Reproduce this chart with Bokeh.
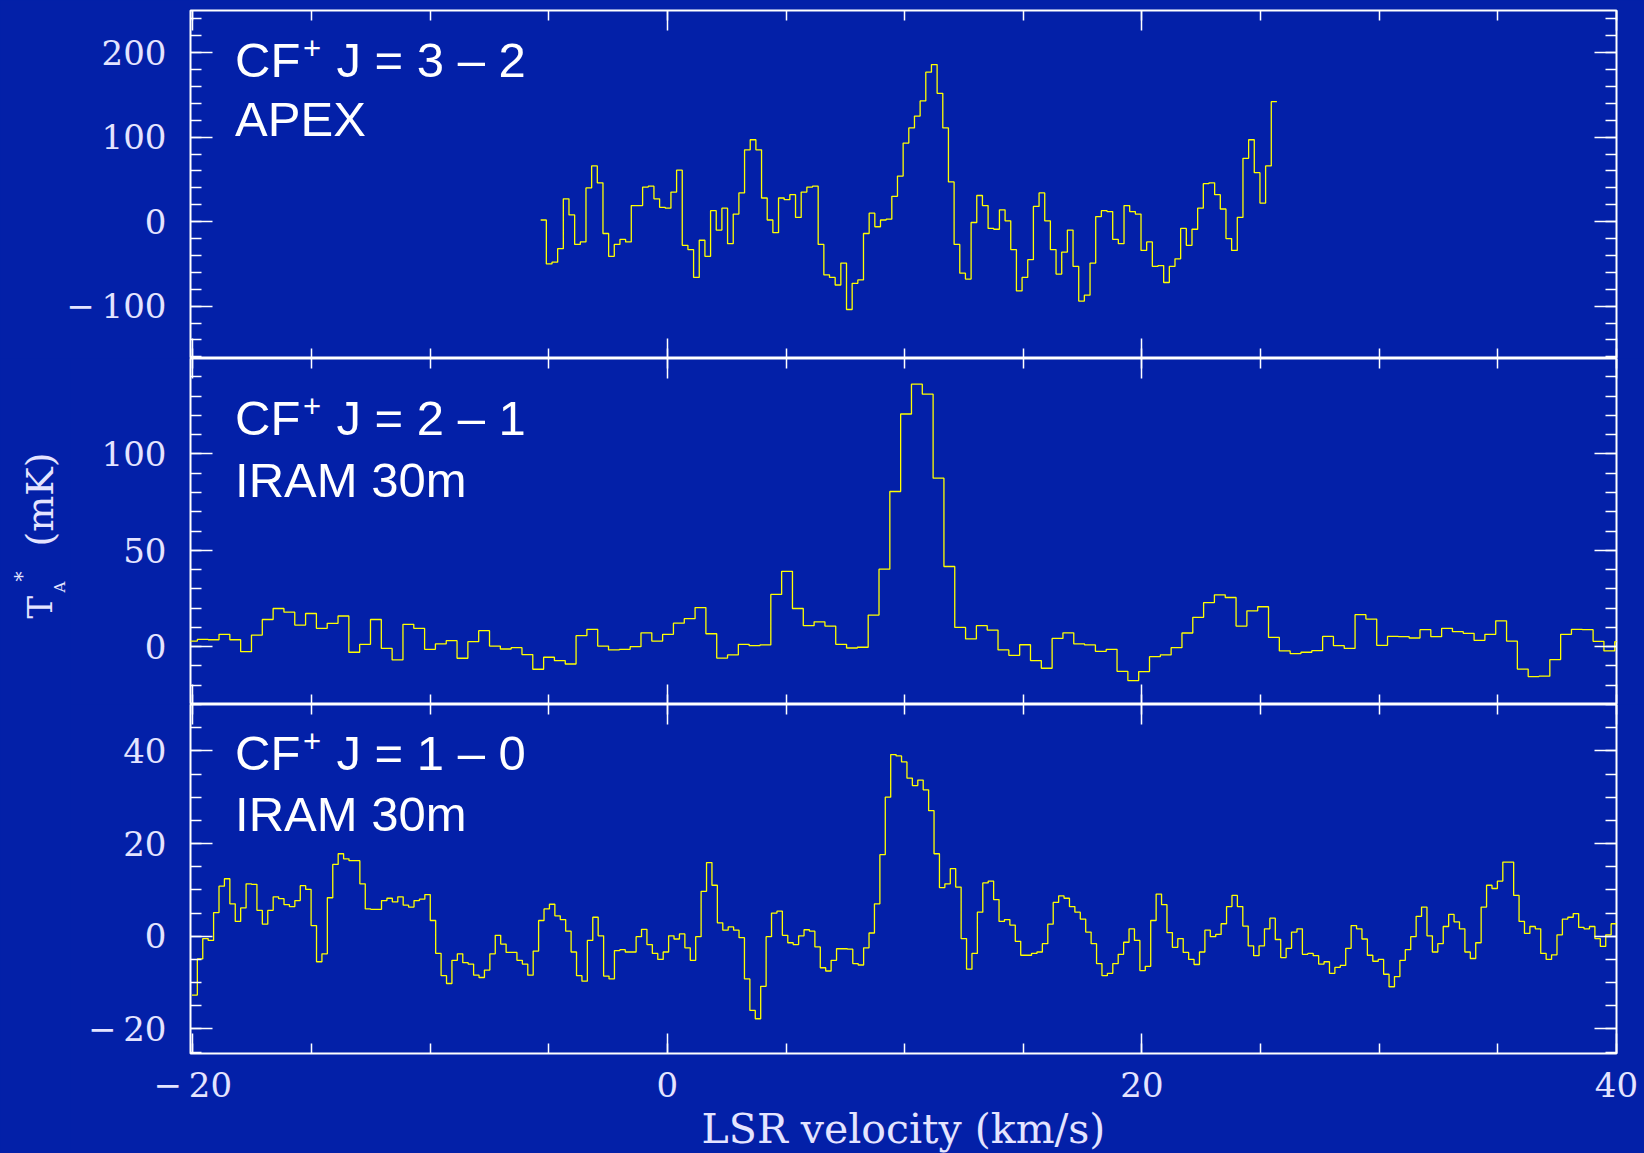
import numpy as np
from bokeh.plotting import figure
from bokeh.layouts import column, row
from bokeh.models import FixedTicker, LinearAxis, Label, Range1d
from bokeh.embed import file_html
from bokeh.resources import INLINE

# ---------------- data ----------------
# CF+ J=3-2, APEX: left edge of first channel, channel width (km/s), T_A* (mK)
v0_32 = -5.342
dv_32 = 0.2387
ta_32 = [2, -50, -48, -32, 27, 8, -27, -24, 40, 66, 46, -14, -41, -27, -21, -24,
         19, 19, 41, 42, 27, 17, 16, 35, 61, -28, -33, -66, -22, -41, 13, -10,
         16, -26, 9, 34, 85, 97, 85, 28, 2, -13, 28, 26, 32, 5, 35, 41, 42, -27,
         -63, -66, -75, -49, -104, -73, -69, -14, 10, -6, 2, 3, 30, 54, 93, 111,
         125, 143, 177, 186, 152, 111, 47, -27, -61, -68, -1, 31, 19, -8, -9, 14,
         1, -33, -82, -66, -45, 18, 34, 1, -33, -62, -36, -10, -53, -94, -87, -49,
         6, 13, 12, -21, -26, 19, 12, 9, -34, -24, -53, -52, -72, -53, -44, -8,
         -28, -9, 16, 45, 46, 32, 15, -20, -34, 5, 75, 97, 58, 22, 66, 142]

# CF+ J=2-1, IRAM 30m
v0_21 = -20.266
dv_21 = 0.456
ta_21 = [2.9, 3.8, 3.6, 6.4, 3.6, -2.6, 6.0, 14.1, 19.8, 17.9, 11.2, 17.2, 9.5, 12.1,
         15.9, -2.9, 1.2, 14.1, -0.9, -6.9, 11.6, 9.5, -1.4, 1.4, 3.1, -6.0, 2.6, 8.3,
         0.3, -1.2, -0.5, -4.1, -11.7, -5.5, -7.2, -9.0, 5.7, 9.0, 0.3, -1.7, -1.4, 0.0,
         7.2, 2.9, 6.4, 12.2, 14.5, 20.3, 6.7, -5.9, -4.3, 1.2, 0.5, 0.9, 27.1, 39.1,
         19.8, 10.9, 12.9, 10.7, 1.2, -0.7, -0.3, 16.4, 40.2, 80.5, 120.7, 136.2, 131.0,
         87.4, 41.6, 10.0, 4.0, 10.9, 8.6, -1.7, -4.5, 1.0, -7.2, -11.2, 4.3, 7.2, 1.4,
         0.9, -2.4, -1.4, -12.8, -17.6, -12.9, -5.2, -4.3, -0.5, 7.1, 15.2, 22.9, 26.9,
         25.5, 10.7, 18.6, 20.7, 4.8, -2.2, -3.6, -2.9, -2.1, 5.3, 0.5, -0.9, 16.6, 14.3,
         0.7, 5.3, 5.2, 4.5, 8.8, 5.2, 9.5, 7.8, 6.9, 3.3, 6.4, 13.4, 2.9, -11.6, -15.5,
         -15.3, -6.7, 6.4, 9.0, 8.8, 2.8, -2.2, 2.6]

# CF+ J=1-0, IRAM 30m
v0_10 = -20.04
dv_10 = 0.2283
ta_10 = [-12.7, -4.9, -0.5, -0.9, 5.1, 10.8, 12.4, 7.0, 3.2, 6.1, 11.3, 11.2, 5.6, 2.6,
         5.6, 8.5, 8.1, 6.8, 6.4, 7.7, 10.9, 10.1, 2.3, -5.5, -3.8, 8.3, 15.5, 17.8, 16.7,
         16.3, 16.3, 11.3, 5.9, 5.8, 5.8, 7.7, 8.2, 7.4, 8.5, 6.7, 6.3, 7.7, 8.0, 9.0, 3.4,
         -3.7, -8.5, -10.2, -5.2, -3.8, -5.7, -6.0, -8.4, -8.9, -7.3, -3.8, 0.2, -1.7,
         -3.5, -3.5, -5.2, -6.0, -8.4, -3.2, 3.4, 5.9, 6.9,
         4.4, 3.6, 1.1, -3.4, -8.5, -9.7, -0.9, 4.1, 0.1, -8.6, -9.2, -3.1, -2.9, -3.4,
         -3.4, -0.1, 1.5, -1.8, -3.7, -5.0, -3.4, 0.1, -0.6, 0.5, -2.5, -5.2, -0.1, 9.7,
         15.9, 11.0, 2.9, 1.3, 2.0, 1.3, -0.3, -9.2, -16.0, -17.8, -10.8, -0.1, 5.0, 5.4,
         0.2, -1.4, -1.8, 0.1, 1.4, 1.1, -2.3, -6.8, -7.5, -5.2, -2.7, -2.7, -2.8, -5.9,
         -6.2, -2.5, 0.7, 7.0, 17.6, 30.0, 39.2, 38.9, 37.6,
         34.1, 32.5, 33.7, 31.6, 27.1, 17.8, 10.5, 11.3, 14.6, 10.6, -0.5, -7.1, -3.7,
         5.2, 11.5, 11.9, 7.9, 3.2, 3.6, 2.4, -1.1, -4.1, -4.1, -3.7, -3.4, -1.6, 2.6,
         7.3, 8.7, 8.2, 6.4, 5.2, 3.7, 0.9, -1.6, -5.9, -8.5, -8.0, -5.9, -3.9, -1.3, 1.6,
         -0.9, -7.4, -6.5, 3.4, 9.1, 6.8, 0.8, -2.4, -0.5, -3.5, -5.0, -6.1, -3.4, 1.3,
         -0.1, 0.4, 2.7, 6.4, 8.8, 6.4, 2.2, -2.1, -4.2,
         -2.1, 1.6, 3.9, -0.7, -4.6, -2.6, 0.9, 1.6, -3.9, -3.7, -4.2, -6.0, -5.5, -8.0,
         -6.7, -6.3, -2.6, 2.3, 1.6, -0.6, -4.1, -5.4, -5.0, -8.2, -10.9, -8.7, -5.2, -2.9,
         -0.1, 4.3, 6.3, 0.1, -3.4, -1.6, 2.1, 4.7, 3.1, 1.6, -3.4, -4.8, -1.4, 6.3, 11.0,
         10.3, 11.9, 16.0, 16.0, 8.8, 3.2, 0.6, 2.1, 1.6, -3.7, -5.0, -4.0, 0.3, 3.7, 4.1,
         4.9, 1.9, 1.6, 2.1, -0.5, -2.2, 0.3, 2.7]

x_major = [-20, 0, 20, 40]
x_minor = list(range(-20, 41, 5))
x_labels = {-20: "\u2212\u200920", 0: "0", 20: "20", 40: "40"}

y_major_32 = [-100, 0, 100, 200]
y_minor_32 = list(range(-160, 251, 20))
y_labels_32 = {-100: "\u2212\u2009100", 0: "0", 100: "100", 200: "200"}

y_major_21 = [0, 50, 100]
y_minor_21 = list(range(-30, 151, 10))
y_labels_21 = {0: "0", 50: "50", 100: "100"}

y_major_10 = [-20, 0, 20, 40]
y_minor_10 = list(range(-25, 51, 5))
y_labels_10 = {-20: "\u2212\u200920", 0: "0", 20: "20", 40: "40"}

line1_32, line2_32 = "J = 3 \u2013 2", "APEX"
line1_21, line2_21 = "J = 2 \u2013 1", "IRAM 30m"
line1_10, line2_10 = "J = 1 \u2013 0", "IRAM 30m"

# ---------------- style ----------------
BG = "#0320a8"
FG = "white"
LBL = "#e4e4ff"
TRACE = "#ffff00"
SERIF = "DejaVu Serif"
SANS = "Liberation Sans"
TXT = 49          # panel annotation font size (px)
SHIFT = 19.5      # baseline correction for screen-unit labels


def add_axis(p, loc, ticker, major_len, minor_len, labels=None):
    ax = LinearAxis(ticker=ticker)
    ax.major_tick_in = major_len
    ax.major_tick_out = 0
    ax.minor_tick_in = minor_len
    ax.minor_tick_out = 0
    ax.major_tick_line_color = FG
    ax.minor_tick_line_color = FG
    ax.major_tick_line_width = 1.5
    ax.minor_tick_line_width = 1.5
    ax.axis_line_color = None
    if labels is None:
        # mirrored tick-only axis: no tick labels at all
        ax.major_label_text_font_size = "0px"
        ax.major_label_text_color = None
        ax.major_label_standoff = 0
    else:
        ax.major_label_overrides = labels
        ax.major_label_text_font = SERIF
        ax.major_label_text_font_size = "34px"
        ax.major_label_text_color = LBL
    p.add_layout(ax, loc)
    return ax


def make_panel(vals, v0, dv, yr, ymaj, ymin, ylab, fh, bleft, btop, bbot, l1, l2, b1, b2, xlab):
    edges = v0 + dv * np.arange(len(vals) + 1)
    yy = list(vals) + [vals[-1]]
    p = figure(frame_width=1426, frame_height=fh,
               x_range=Range1d(-20.1, 40.0), y_range=Range1d(*yr),
               output_backend="svg", toolbar_location=None,
               x_axis_location=None, y_axis_location=None,
               min_border_left=bleft, min_border_right=28,
               min_border_top=btop, min_border_bottom=bbot,
               background_fill_color=BG, border_fill_color=BG,
               outline_line_color=FG, outline_line_width=2)
    p.grid.visible = False
    p.step(edges, yy, mode="after", line_color=TRACE, line_width=1.3)

    yt = FixedTicker(ticks=ymaj, minor_ticks=ymin)
    xt = FixedTicker(ticks=x_major, minor_ticks=x_minor)
    ay = add_axis(p, "left", yt, 22, 11, ylab)
    ay.major_label_standoff = 24
    add_axis(p, "right", yt, 22, 11)
    add_axis(p, "above", xt, 20, 10)
    ax = add_axis(p, "below", xt, 20, 10, x_labels if xlab else None)
    if xlab:
        ax.major_label_standoff = 11
        ax.axis_label = "LSR velocity (km/s)"
        ax.axis_label_text_font = SERIF
        ax.axis_label_text_font_style = "normal"
        ax.axis_label_text_font_size = "41px"
        ax.axis_label_text_color = LBL
        ax.axis_label_standoff = -3

    kw = dict(x_units="screen", y_units="screen", text_color=FG,
              text_font=SANS, text_baseline="alphabetic")
    fs = f"{TXT}px"
    p.add_layout(Label(x=44.6, y=b1 + SHIFT, text="CF", text_font_size=fs, **kw))
    p.add_layout(Label(x=112.5, y=b1 + SHIFT + 12, text="+", text_font_size="31px", **kw))
    p.add_layout(Label(x=146.0, y=b1 + SHIFT, text=l1, text_font_size=fs, **kw))
    p.add_layout(Label(x=44.6, y=b2 + SHIFT, text=l2, text_font_size=fs, **kw))
    return p


YW = 70  # width of the strip that carries the rotated y title
p1 = make_panel(ta_32, v0_32, dv_32, (-162, 250), y_major_32, y_minor_32, y_labels_32,
                348, 190, 10, 0, line1_32, line2_32, 279.3, 219.8, False)
p2 = make_panel(ta_21, v0_21, dv_21, (-30, 149.5), y_major_21, y_minor_21, y_labels_21,
                346, 190 - YW, 0, 0, line1_21, line2_21, 266.7, 205.3, False)
p3 = make_panel(ta_10, v0_10, dv_10, (-25.3, 50), y_major_10, y_minor_10, y_labels_10,
                349, 190 - YW, 0, 100, line1_10, line2_10, 281.3, 219.7, True)

# strip on the left of the lower two panels holding the y title T_A^* (mK)
ystrip = figure(frame_width=YW, frame_height=346 + 449, x_range=(0, 1), y_range=(0, 1),
                output_backend="svg", toolbar_location=None,
                x_axis_location=None, y_axis_location=None,
                min_border=0, background_fill_color=BG, border_fill_color=BG,
                outline_line_color=None)
ystrip.grid.visible = False
# screen y in the strip = 1153 - page y (strip bottom sits at the page bottom)
ykw = dict(x_units="screen", y_units="screen", text_color=LBL, text_font=SERIF,
           angle=np.pi / 2, text_align="left", text_baseline="alphabetic")
ystrip.add_layout(Label(x=53 - 0.4 * 34, y=1153 - 618, text="T", text_font_size="34px", **ykw))
ystrip.add_layout(Label(x=65 - 0.4 * 15, y=1153 - 592, text="A", text_font_size="15px", **ykw))
ystrip.add_layout(Label(x=29 - 0.4 * 20, y=1153 - 581, text="*", text_font_size="20px", **ykw))
ystrip.add_layout(Label(x=55 - 0.4 * 38, y=1153 - 546, text="(mK)", text_font_size="38px", **ykw))

layout = column(p1, row(ystrip, column(p2, p3, spacing=0), spacing=0), spacing=0)
layout.styles = {"background-color": BG}
open("out.html", "w").write(file_html(layout, INLINE))
